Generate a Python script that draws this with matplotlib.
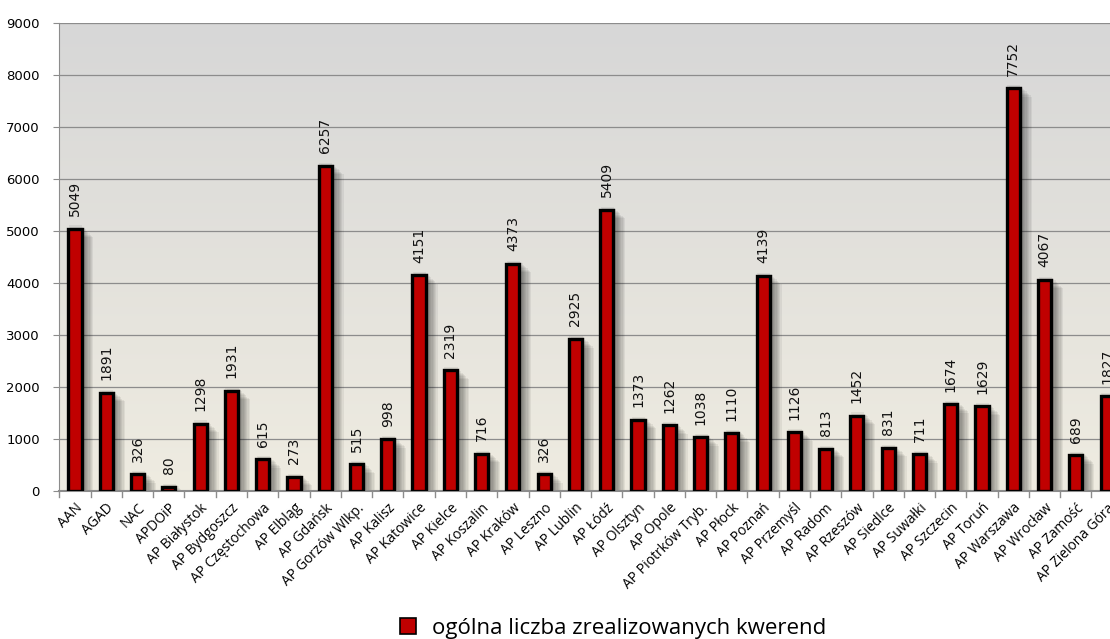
import numpy as np
import matplotlib
matplotlib.use("Agg")
import matplotlib.pyplot as plt
from matplotlib.patches import Rectangle
from matplotlib.lines import Line2D

# --- data ---
archives = [
    "AAN", "AGAD", "NAC", "APDOiP", "AP Białystok", "AP Bydgoszcz",
    "AP Częstochowa", "AP Elbląg", "AP Gdańsk", "AP Gorzów Wlkp.",
    "AP Kalisz", "AP Katowice", "AP Kielce", "AP Koszalin", "AP Kraków",
    "AP Leszno", "AP Lublin", "AP Łódź", "AP Olsztyn", "AP Opole",
    "AP Piotrków Tryb.", "AP Płock", "AP Poznań", "AP Przemyśl", "AP Radom",
    "AP Rzeszów", "AP Siedlce", "AP Suwałki", "AP Szczecin", "AP Toruń",
    "AP Warszawa", "AP Wrocław", "AP Zamość", "AP Zielona Góra",
]
queries = [
    5049, 1891, 326, 80, 1298, 1931,
    615, 273, 6257, 515,
    998, 4151, 2319, 716, 4373,
    326, 2925, 5409, 1373, 1262,
    1038, 1110, 4139, 1126, 813,
    1452, 831, 711, 1674, 1629,
    7752, 4067, 689, 1827,
]
yticks = [0, 1000, 2000, 3000, 4000, 5000, 6000, 7000, 8000, 9000]
legend_label = "ogólna liczba zrealizowanych kwerend"

BAR_RED = "#C00000"
GRID = "#8c8c8c"
W = 0.42

fig = plt.figure(figsize=(11.1, 6.39), dpi=100)
ax = fig.add_axes([0.0535, 0.2316, 0.958, 0.732])

x = np.arange(len(archives))
ax.set_xlim(-0.5, len(archives) - 0.5)
ax.set_ylim(0, 9000)

# gradient background: cool grey at top, warm beige at bottom
top = np.array([0.843, 0.843, 0.843])
bot = np.array([0.937, 0.925, 0.882])
t = np.linspace(0, 1, 256)[:, None]
grad = (top * t[..., None] + bot * (1 - t[..., None]))
ax.imshow(grad, extent=[-0.5, len(archives) - 0.5, 0, 9000], aspect="auto",
          origin="lower", zorder=0)

ax.grid(axis="y", color=GRID, linewidth=0.9, zorder=1)
ax.set_axisbelow(True)

# soft drop shadow to the right of each bar
for i, v in zip(x, queries):
    for k in range(10):
        off = 0.02 + k * 0.04
        ax.add_patch(Rectangle((i - W / 2 + off, 0), W, v + 60 - k * 25,
                               facecolor="black", alpha=0.06,
                               edgecolor="none", zorder=2))

ax.bar(x, queries, width=W, color=BAR_RED, edgecolor="black", linewidth=2.4,
       zorder=3)

for i, v in zip(x, queries):
    ax.annotate(str(v), (i, v), xytext=(0, 9), textcoords="offset points",
                rotation=90, ha="center", va="bottom", fontsize=10,
                family="DejaVu Sans", color="#111111", zorder=4)

ax.set_yticks(yticks)
ax.set_yticklabels([str(v) for v in yticks], fontsize=9.5, family="DejaVu Sans")
ax.tick_params(axis="y", length=4, color=GRID, pad=10)

ax.set_xticks(x)
ax.set_xticklabels(archives, rotation=45, ha="right", rotation_mode="anchor",
                   fontsize=10, family="Open Sans")
ax.tick_params(axis="x", length=0, pad=7)
for b in np.arange(-0.5, len(archives)):
    ax.plot([b, b], [0, -110], color=GRID, lw=1, clip_on=False, zorder=1)

for s in ("top", "right"):
    ax.spines[s].set_visible(False)
ax.spines["left"].set_color(GRID)
ax.spines["bottom"].set_color(GRID)
ax.spines["bottom"].set_linewidth(1.5)

handle = Line2D([], [], marker="s", linestyle="none", markersize=12,
                markerfacecolor=BAR_RED, markeredgecolor="black",
                markeredgewidth=1.2)
fig.legend([handle], [legend_label], loc="center", bbox_to_anchor=(0.546, 0.017),
           frameon=False, prop={"family": "Open Sans", "size": 16},
           handletextpad=0.05, borderpad=0)

fig.savefig("out.png", dpi=100)
